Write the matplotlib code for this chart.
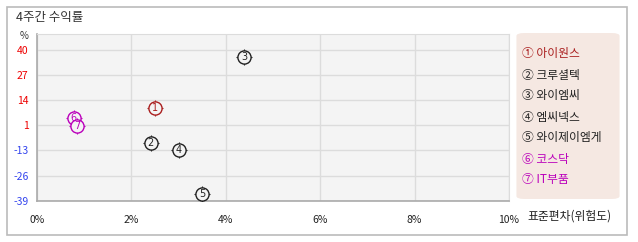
import numpy as np
import matplotlib.pyplot as plt
from matplotlib.patches import FancyBboxPatch, Rectangle

plt.rcParams['font.family'] = ['Noto Sans CJK KR', 'DejaVu Sans']

names = ['아이원스', '크루셜텍', '와이엠씨', '엠씨넥스', '와이제이엠게', '코스닥', 'IT부품']
nums = ['1', '2', '3', '4', '5', '6', '7']
circled = ['①', '②', '③', '④', '⑤', '⑥', '⑦']
risk = [2.50, 2.41, 4.39, 3.00, 3.50, 0.78, 0.85]      # std dev %
ret = [9.8, -8.6, 36.3, -12.5, -35.3, 4.3, 0.1]        # 4-week return %
colors = ['#aa1f1f', '#222222', '#222222', '#222222', '#222222', '#bb00bb', '#bb00bb']

x_ticks = [0, 2, 4, 6, 8, 10]
x_labels = ['0%', '2%', '4%', '6%', '8%', '10%']
y_ticks = np.linspace(-39, 40, 7)
y_labels = ['-39', '-26', '-13', '1', '14', '27', '40']

fig = plt.figure(figsize=(6.38, 2.42), dpi=100)
ax = fig.add_axes([37/638, 41.3/242, 472/638, 166.7/242])
ax.set_facecolor('#f4f4f4')

bg = '#f4f4f4'
for i in range(len(names)):
    ax.scatter(risk[i], ret[i], s=145, marker='+', color=colors[i], linewidths=0.8, zorder=3+i)
    ax.scatter(risk[i], ret[i], s=90, marker='o', facecolor=bg, edgecolor=colors[i], linewidths=1.0, zorder=3+i)
    ax.text(risk[i], ret[i], nums[i], color=colors[i], fontsize=7, ha='center', va='center', zorder=3+i,
            family='DejaVu Sans')

ax.set_xlim(0, 10)
ax.set_ylim(-39, 48.4)
ax.set_xticks(x_ticks)
ax.set_xticklabels(x_labels, fontsize=7.5, color='#222222')
ax.set_yticks(y_ticks)
ax.set_yticklabels(y_labels, fontsize=7.5)
for lab, v in zip(ax.get_yticklabels(), y_labels):
    lab.set_color('#ee0000' if int(v) > 0 else '#3344ee')
ax.tick_params(length=0, pad=6)
ax.tick_params(axis='x', pad=10)
ax.grid(True, color='#dcdcdc', linewidth=1)
ax.set_axisbelow(True)
for s in ['top', 'right']:
    ax.spines[s].set_color('#dcdcdc')
for s in ['left', 'bottom']:
    ax.spines[s].set_color('#aaaaaa')
    ax.spines[s].set_linewidth(1.2)

# outer frame
fig.patches.append(Rectangle((6.5/638, 7/242), 620.5/638, 228/242, transform=fig.transFigure,
                             fill=False, edgecolor='#bbbbbb', linewidth=1.2))
fig.text(16/638, 1 - 18/242, '4주간 수익률', fontsize=9, color='#333333', va='center')
fig.text(24/638, 1 - 36/242, '%', fontsize=7, color='#333333', va='center', ha='center')
fig.text(527/638, 1 - 216/242, '표준편차(위험도)', fontsize=8.5, color='#222222', va='center')

# legend box
fig.patches.append(FancyBboxPatch((519/638, 44/242), 98/638, 164/242, transform=fig.transFigure,
                                  boxstyle='round,pad=0.004,rounding_size=0.012',
                                  facecolor='#f5e8e2', edgecolor='none'))
for i in range(len(names)):
    fig.text(522/638, 1 - (54 + i*21)/242, circled[i] + ' ' + names[i], fontsize=8.5,
             color=colors[i], va='center')

fig.savefig('out.png', dpi=100)
